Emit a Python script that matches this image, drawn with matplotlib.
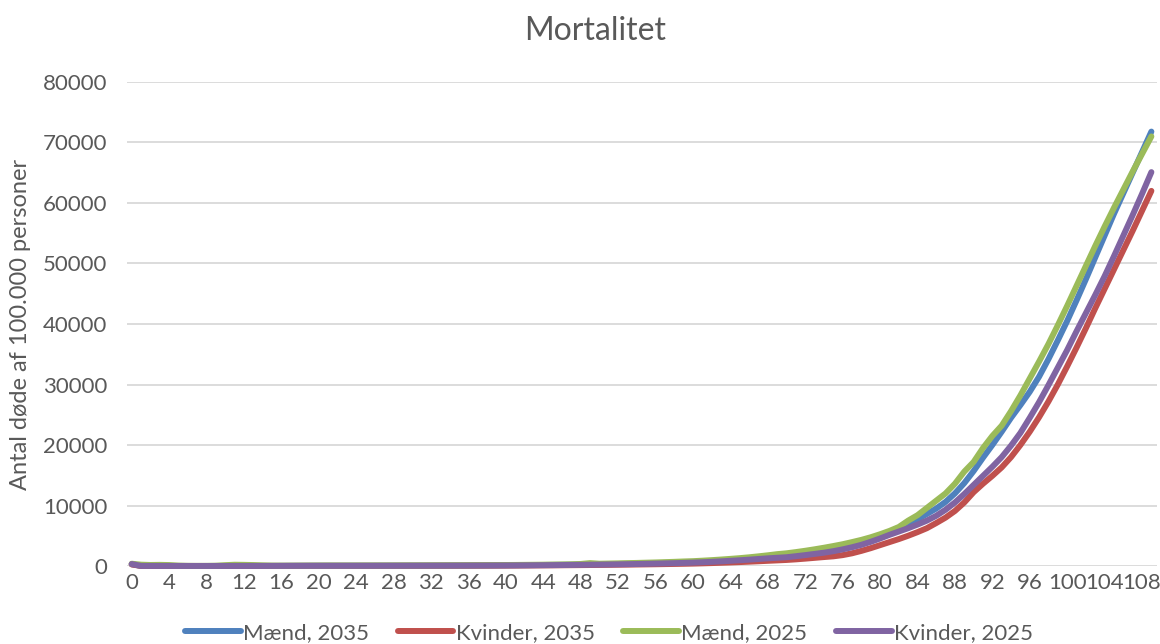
import numpy as np
import matplotlib
matplotlib.use("Agg")
import matplotlib.pyplot as plt

plt.rcParams["font.family"] = ["Lato", "DejaVu Sans"]

# alder 0..109
alder = np.arange(110)

maend_2035 = [
    300, 20, 15, 10, 8, 8, 7, 7, 7, 7,
    8, 8, 10, 12, 15, 20, 28, 35, 42, 48,
    52, 55, 56, 57, 58, 60, 62, 64, 66, 70,
    72, 75, 78, 82, 86, 90, 96, 102, 110, 118,
    126, 135, 146, 158, 170, 185, 200, 218, 238, 260,
    283, 308, 335, 365, 395, 430, 467, 508, 552, 600,
    650, 710, 780, 860, 950, 1050, 1160, 1280, 1410, 1560,
    1720, 1900, 2100, 2320, 2560, 2830, 3120, 3440, 3800, 4250,
    4800, 5400, 6100, 6900, 7700, 8600, 9500, 10600, 12000, 13700,
    15700, 17900, 20000, 22200, 24500, 26600, 28800, 31300, 34200, 37300,
    40500, 43900, 47400, 51000, 54600, 58200, 61600, 65000, 68400, 71800,
]

kvinder_2035 = [
    260, 15, 10, 8, 7, 6, 6, 6, 5, 5,
    6, 6, 7, 8, 10, 12, 15, 18, 20, 22,
    23, 24, 24, 25, 25, 26, 27, 28, 30, 32,
    34, 36, 39, 42, 45, 48, 52, 57, 62, 68,
    74, 80, 88, 96, 105, 115, 126, 138, 151, 165,
    180, 196, 213, 231, 250, 271, 293, 317, 342, 369,
    400, 440, 485, 535, 590, 650, 715, 785, 860, 930,
    1000, 1100, 1220, 1350, 1480, 1600, 1800, 2100, 2500, 2950,
    3450, 3950, 4450, 5000, 5600, 6250, 7100, 8000, 9100, 10500,
    12200, 13600, 14900, 16300, 18000, 20000, 22200, 24600, 27200, 30000,
    33000, 36100, 39300, 42600, 45800, 49000, 52200, 55400, 58700, 62000,
]

maend_2025 = [
    380, 220, 170, 190, 160, 70, 30, 20, 25, 50,
    140, 210, 190, 160, 110, 70, 60, 60, 65, 70,
    75, 80, 80, 80, 82, 85, 85, 88, 90, 95,
    98, 100, 105, 110, 115, 120, 128, 135, 145, 155,
    165, 175, 190, 205, 220, 240, 260, 285, 340, 480,
    380, 410, 440, 475, 510, 550, 590, 640, 690, 750,
    800, 880, 970, 1070, 1180, 1300, 1440, 1600, 1770, 1960,
    2100, 2300, 2520, 2760, 3020, 3300, 3600, 3950, 4320, 4750,
    5250, 5800, 6450, 7500, 8400, 9600, 10800, 12000, 13600, 15600,
    17200, 19500, 21500, 23200, 25600, 28200, 31000, 33800, 36700, 39800,
    43000, 46300, 49600, 52900, 56100, 59200, 62200, 65200, 68100, 71000,
]

kvinder_2025 = [
    330, 18, 12, 9, 8, 7, 7, 7, 6, 6,
    7, 7, 8, 10, 12, 15, 18, 22, 24, 26,
    27, 28, 29, 30, 31, 32, 33, 35, 37, 40,
    42, 45, 48, 52, 56, 60, 65, 71, 78, 85,
    93, 102, 112, 123, 135, 148, 162, 178, 195, 214,
    234, 256, 280, 306, 334, 364, 397, 433, 472, 514,
    560, 620, 690, 770, 860, 950, 1050, 1160, 1270, 1360,
    1450, 1620, 1800, 2000, 2200, 2450, 2750, 3100, 3500, 4000,
    4550, 5150, 5700, 6250, 6850, 7500, 8300, 9300, 10500, 11900,
    13400, 14900, 16400, 18000, 19900, 22000, 24500, 27100, 29900, 32800,
    35700, 38800, 41800, 44800, 47900, 51200, 54600, 58000, 61500, 65100,
]

serier = [
    ("Mænd, 2035", maend_2035, "#4F81BD"),
    ("Kvinder, 2035", kvinder_2035, "#C0504D"),
    ("Mænd, 2025", maend_2025, "#9BBB59"),
    ("Kvinder, 2025", kvinder_2025, "#8064A2"),
]

fig = plt.figure(figsize=(11.6, 6.44), dpi=100)
ax = fig.add_axes([0.1095, 0.1211, 0.8879, 0.7516])

for navn, vaerdier, farve in serier:
    ax.plot(alder, vaerdier, color=farve, lw=4.3, label=navn,
            solid_capstyle="round", solid_joinstyle="round", clip_on=False, zorder=3)

ax.set_xlim(-0.5, 109.6)
ax.set_ylim(0, 80000)
ax.set_yticks(np.arange(0, 80001, 10000))
ax.set_xticks(np.arange(0, 109, 4))

for s in ax.spines.values():
    s.set_visible(False)
ax.grid(axis="y", color="#D9D9D9", lw=1.3)
ax.set_axisbelow(True)
ax.tick_params(axis="both", length=0, labelsize=16, labelcolor="#595959")
ax.tick_params(axis="y", pad=14)
ax.tick_params(axis="x", pad=5)

ax.set_ylabel("Antal døde af 100.000 personer", fontsize=17, color="#595959", labelpad=9)
fig.suptitle("Mortalitet", fontsize=23, color="#595959", x=0.513, y=0.975)

fig.legend(loc="center", bbox_to_anchor=(0.525, 0.017), ncol=4, frameon=False,
           fontsize=16, handlelength=2.5, handletextpad=0.1, columnspacing=1.3,
           labelcolor="#595959")

fig.savefig("out.png", dpi=100)
